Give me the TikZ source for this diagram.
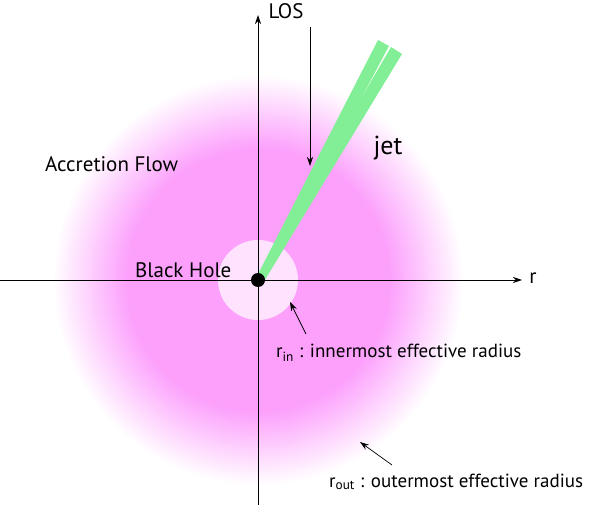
\documentclass[tikz,border=0pt]{standalone}
\usepackage{fontspec}
\setmainfont{PT Sans}
\usetikzlibrary{arrows.meta}
\definecolor{pinkc}{RGB}{252,160,252}
\definecolor{jetg}{RGB}{130,238,150}
\pgfdeclareradialshading{disc}{\pgfpoint{0bp}{0bp}}{color(0bp)=(pinkc); color(16bp)=(pinkc); color(25bp)=(white); color(50bp)=(white)}
\tikzset{lbl/.style={font=\fontsize{21}{23}\selectfont, inner sep=0pt},
 rlbl/.style={font=\fontsize{19}{21}\selectfont, inner sep=0pt, anchor=west},
 ax/.style={line width=0.8pt, -{Stealth[length=9pt,width=6pt]}},
 ptr/.style={line width=0.7pt, -{Stealth[length=9pt,width=6pt]}}}
\begin{document}
\begin{tikzpicture}[x=1pt,y=-1pt]
\useasboundingbox (0,0) rectangle (600,505);
\shade[shading=disc] (258,280) circle (205);
\fill[white,opacity=0.7] (258,280) circle (40);
\coordinate (c) at (258,280);
\fill[jetg] (255,280) -- (378,40) -- (389,46) -- (263,283) -- cycle;
\fill[jetg] (255,280) -- (391,47) -- (402,54) -- (263,283) -- cycle;
\fill[jetg] (259,279) circle (5);
\coordinate (xl) at (0,280); \coordinate (xr) at (522,280);
\coordinate (yb) at (258,505); \coordinate (yt) at (258,15);
\draw[ax] (xl) -- (xr);
\draw[ax] (yb) -- (yt);
\node[circle, fill=black, minimum size=14pt, inner sep=0pt] (bh) at (c) {};
\node[lbl] (r) at (533,278) {r};
\node[lbl] (los) at (286,11) {LOS};
\coordinate (losa) at (310,27);
\coordinate (losb) at (310,166);
\draw[ptr] (losa) -- (losb);
\node[lbl, font=\fontsize{26}{28}\selectfont] (jet) at (388,148) {jet};
\node[lbl, anchor=west] (af) at (45,164) {Accretion Flow};
\node[lbl, anchor=west] (bhl) at (135,270) {Black Hole};
\node[rlbl] (rin) at (276,353) {r\textsubscript{in} : innermost effective radius};
\coordinate (rina) at (306,334);
\coordinate (rinb) at (290,302);
\draw[ptr] (rina) -- (rinb);
\node[rlbl] (rout) at (329,482) {r\textsubscript{out} : outermost effective radius};
\coordinate (routa) at (392,465);
\coordinate (routb) at (360,442);
\draw[ptr] (routa) -- (routb);
\end{tikzpicture}
\end{document}
